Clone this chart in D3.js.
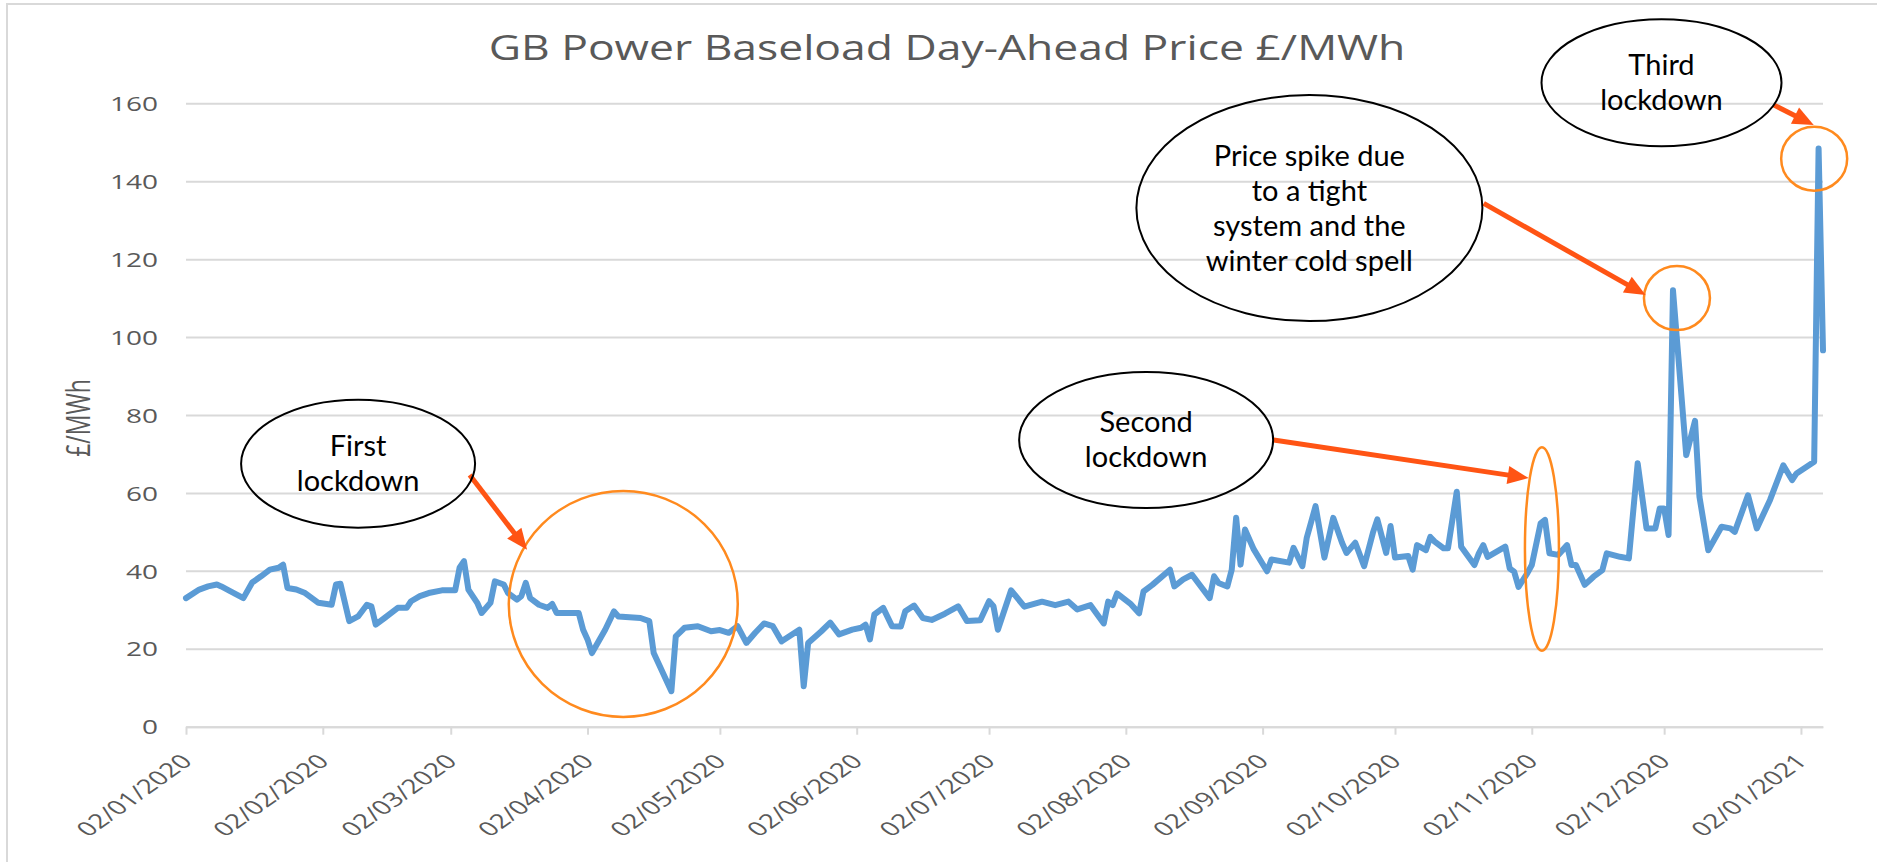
<!DOCTYPE html>
<html>
<head>
<meta charset="utf-8">
<script src="https://cdnjs.cloudflare.com/ajax/libs/d3/7.8.5/d3.min.js"></script>
<style>
    html, body { margin: 0; padding: 0; background: #fff; }
    svg { display: block; }
    .axis text { font-family: "Open Sans", sans-serif; font-size: 20px; fill: #595959; }
    .axis line, .axis path { stroke: #d9d9d9; stroke-width: 2; }
    .callout text { font-family: Lato, "Open Sans", sans-serif; font-size: 29px; fill: #000; }
</style>
</head>
<body>
<div id="chart"></div>
<script>
const W = 1877, H = 862;
const plot = { left: 186, right: 1823, top: 103.3, bottom: 726.7 };
const TEXT_STRETCH = 1.4; // the source chart was stretched sideways

const parseDay = d3.utcParse("%d/%m/%Y");
const startDate = parseDay("02/01/2020");

// x tick labels (dd/mm/yyyy)
const tickLabels = ["02/01/2020", "02/02/2020", "02/03/2020", "02/04/2020", "02/05/2020",
    "02/06/2020", "02/07/2020", "02/08/2020", "02/09/2020", "02/10/2020",
    "02/11/2020", "02/12/2020", "02/01/2021"];
const yTicks = [0, 20, 40, 60, 80, 100, 120, 140, 160];

// price series: days after 02/01/2020 and £/MWh
const priceDays = [
    0, 3, 5, 7, 8, 10, 13, 15, 17, 19,
    21, 22, 23, 25, 27, 30, 33, 34, 35, 37,
    39, 41, 42, 43, 45, 48, 50, 51, 53, 55,
    58, 61, 62, 63, 64, 66, 67, 69, 70, 72,
    73, 75, 76, 77, 78, 80, 82, 83, 84, 89,
    90, 91, 92, 95, 97, 98, 103, 105, 106, 110,
    111, 113, 116, 119, 121, 123, 125, 127, 129, 131,
    133, 135, 139, 140, 141, 144, 146, 148, 151, 153,
    154, 155, 156, 158, 160, 162, 163, 165, 167, 169,
    172, 175, 177, 180, 182, 183, 184, 187, 190, 194,
    197, 200, 202, 205, 208, 209, 210, 211, 214, 216,
    217, 219, 223, 224, 226, 228, 230, 232, 233, 234,
    236, 237, 238, 239, 240, 242, 245, 246, 250, 251,
    253, 254, 256, 258, 260, 262, 263, 265, 267, 269,
    270, 272, 273, 274, 277, 278, 279, 281, 282, 283,
    285, 286, 288, 289, 292, 293, 294, 295, 299, 300,
    301, 302, 304, 305, 307, 308, 309, 311, 313, 314,
    315, 317, 319, 321, 322, 325, 327, 329, 331, 333,
    334, 335, 336, 337, 340, 342, 343, 345, 348, 350,
    351, 354, 356, 359, 362, 364, 365, 369, 370, 371
];
const priceValues = [
    33, 35.2, 36, 36.5, 36, 34.8, 33, 37, 38.6, 40.3,
    40.8, 41.6, 35.6, 35.2, 34.3, 31.8, 31.3, 36.5, 36.7, 27.1,
    28.3, 31.3, 30.9, 26.2, 27.9, 30.5, 30.5, 32.2, 33.5, 34.3,
    35, 35, 40.8, 42.5, 35.2, 31.8, 29.2, 31.8, 37.3, 36.5,
    34.3, 32.6, 33.5, 36.9, 33, 31.3, 30.5, 31.5, 29.2, 29.2,
    24.9, 22.4, 18.9, 24.9, 29.6, 28.3, 27.9, 27.1, 18.9, 9.1,
    23.2, 25.4, 25.8, 24.5, 24.8, 24.1, 25.8, 21.5, 24.1, 26.5,
    25.8, 21.9, 24.9, 10.4, 21.5, 24.5, 26.7, 23.7, 24.9, 25.4,
    26.2, 22.4, 28.8, 30.5, 25.8, 25.7, 29.6, 31.1, 27.9, 27.4,
    29, 30.9, 27.1, 27.3, 32.2, 30.9, 24.9, 35, 30.8, 32.1,
    31.2, 32.1, 30.1, 31.2, 26.5, 32.1, 31.2, 34.2, 31.6, 29.1,
    34.7, 36.4, 40.3, 36, 37.8, 39, 36, 33, 38.6, 36.9,
    36, 40.3, 53.6, 41.6, 50.6, 45.5, 39.9, 42.9, 42.1, 45.9,
    41.2, 48.5, 56.6, 43.4, 53.6, 47.2, 44.6, 47.2, 41.2, 49.8,
    53.2, 44.6, 51.5, 43.4, 43.8, 40.3, 46.6, 45.3, 48.7, 47.5,
    45.8, 45.8, 60.3, 46.2, 41.5, 44.5, 46.6, 43.6, 46.2, 40.6,
    39.8, 35.9, 39.4, 41.5, 52.2, 53.1, 44.5, 44.1, 46.6, 41.5,
    41.5, 36.4, 38.5, 40.2, 44.5, 43.6, 43.2, 67.6, 50.9, 50.9,
    56, 56, 49.2, 112, 69.7, 78.5, 59, 45.3, 51.3, 50.9,
    50, 59.4, 50.9, 58.2, 67.1, 63.3, 65, 68, 148.4, 96.6
];

// annotation texts and where they sit (day, £/MWh)
const calloutTexts = [
    ["First", "lockdown"],
    ["Second", "lockdown"],
    ["Price spike due", "to a tight", "system and the", "winter cold spell"],
    ["Third", "lockdown"]
];
const callouts = [
    { day: 39, value: 67.5, rx: 117, ry: 64 },
    { day: 217.6, value: 73.6, rx: 127, ry: 68 },
    { day: 254.6, value: 133.1, rx: 173, ry: 113 },
    { day: 334.4, value: 165.3, rx: 120, ry: 63.5 }
];
const highlights = [
    { day: 99.1, value: 31.5, rx: 114.5, ry: 113 },
    { day: 307.3, value: 45.6, rx: 17, ry: 101.7 },
    { day: 337.9, value: 110, rx: 33, ry: 32 },
    { day: 369, value: 145.8, rx: 33, ry: 32 }
];
const arrows = [
    { from: [64.3, 64.6], to: [77.3, 45.4] },
    { from: [246.5, 73.6], to: [304.3, 63.8] },
    { from: [294.1, 134.3], to: [330.8, 110.8] },
    { from: [359.8, 159.6], to: [368.9, 154.4] }
];

const x = d3.scaleUtc()
    .domain([startDate, d3.utcDay.offset(startDate, 371)])
    .range([plot.left, plot.right]);
const y = d3.scaleLinear()
    .domain([0, 160])
    .range([plot.bottom, plot.top]);
const xDay = day => x(new Date(startDate.getTime() + day * 864e5));

const svg = d3.select("#chart")
    .append("svg")
    .attr("width", W)
    .attr("height", H);

svg.append("rect").attr("width", W).attr("height", H).attr("fill", "#fff");

// outer frame (only left and top edges are visible in the source)
svg.append("path")
    .attr("d", `M7,${H} V4 H${W}`)
    .attr("fill", "none")
    .attr("stroke", "#d9d9d9")
    .attr("stroke-width", 2);

// title
const title = svg.append("text")
    .attr("text-anchor", "middle")
    .style("font-family", "'Open Sans', sans-serif")
    .style("font-size", "35px")
    .style("fill", "#595959")
    .text("GB Power Baseload Day-Ahead Price £/MWh");
const titleLen = title.node().getComputedTextLength();
title.attr("transform", `translate(947,60) scale(${917 / titleLen},1)`);

// y axis with gridlines
const yAxis = svg.append("g")
    .attr("class", "axis y-axis")
    .attr("transform", `translate(${plot.left},0)`)
    .call(d3.axisLeft(y).tickValues(yTicks).tickSize(-(plot.right - plot.left)).tickPadding(0));
yAxis.select(".domain").remove();
yAxis.selectAll("text")
    .attr("x", null)
    .attr("dy", "0.36em")
    .attr("transform", `translate(-28,0) scale(${TEXT_STRETCH},1)`);

// x axis
const tickDates = tickLabels.map(parseDay);
const xAxis = svg.append("g")
    .attr("class", "axis x-axis")
    .attr("transform", `translate(0,${plot.bottom})`)
    .call(d3.axisBottom(x)
        .tickValues(tickDates)
        .tickSize(8)
        .tickSizeOuter(0)
        .tickFormat((d, i) => tickLabels[i]));
xAxis.selectAll("text")
    .attr("y", null)
    .attr("dy", null)
    .style("text-anchor", "end")
    .attr("transform", `translate(7,36) scale(${TEXT_STRETCH},1) rotate(-45)`);

// y axis title
svg.append("text")
    .attr("text-anchor", "middle")
    .attr("transform", `translate(90,418) scale(${TEXT_STRETCH},1) rotate(-90)`)
    .style("font-family", "'Open Sans', sans-serif")
    .style("font-size", "23px")
    .style("fill", "#595959")
    .text("£/MWh");

// price line
const series = priceDays.map((d, i) => ({ date: d3.utcDay.offset(startDate, d), value: priceValues[i] }));
const line = d3.line()
    .x(d => x(d.date))
    .y(d => y(d.value));

svg.append("path")
    .datum(series)
    .attr("fill", "none")
    .attr("stroke", "#5b9bd5")
    .attr("stroke-width", 6)
    .attr("stroke-linejoin", "round")
    .attr("stroke-linecap", "round")
    .attr("d", line);

// orange highlight rings
svg.selectAll(".highlight")
    .data(highlights)
    .enter()
    .append("ellipse")
    .attr("class", "highlight")
    .attr("cx", d => xDay(d.day))
    .attr("cy", d => y(d.value))
    .attr("rx", d => d.rx)
    .attr("ry", d => d.ry)
    .attr("fill", "none")
    .attr("stroke", "#ff8a1e")
    .attr("stroke-width", 2.5);

// arrows
const ARROW_COLOR = "#ff5414";
const headLen = 21, headHalf = 9;
arrows.forEach(a => {
    const x1 = xDay(a.from[0]), y1 = y(a.from[1]);
    const x2 = xDay(a.to[0]), y2 = y(a.to[1]);
    const len = Math.hypot(x2 - x1, y2 - y1);
    const ux = (x2 - x1) / len, uy = (y2 - y1) / len;
    const bx = x2 - ux * headLen, by = y2 - uy * headLen;
    svg.append("line")
        .attr("x1", x1).attr("y1", y1)
        .attr("x2", bx + ux * 4).attr("y2", by + uy * 4)
        .attr("stroke", ARROW_COLOR)
        .attr("stroke-width", 5);
    svg.append("path")
        .attr("d", `M${x2},${y2} L${bx - uy * headHalf},${by + ux * headHalf} L${bx + uy * headHalf},${by - ux * headHalf} Z`)
        .attr("fill", ARROW_COLOR);
});

// callout bubbles
const LINE_H = 35;
callouts.forEach((c, i) => {
    const cx = xDay(c.day), cy = y(c.value);
    const g = svg.append("g").attr("class", "callout");
    g.append("ellipse")
        .attr("cx", cx).attr("cy", cy)
        .attr("rx", c.rx).attr("ry", c.ry)
        .attr("fill", "none")
        .attr("stroke", "#000")
        .attr("stroke-width", 2);
    const lines = calloutTexts[i];
    lines.forEach((t, j) => {
        g.append("text")
            .attr("x", cx)
            .attr("y", cy + (j - (lines.length - 1) / 2) * LINE_H + 10)
            .attr("text-anchor", "middle")
            .text(t);
    });
});
</script>
</body>
</html>
